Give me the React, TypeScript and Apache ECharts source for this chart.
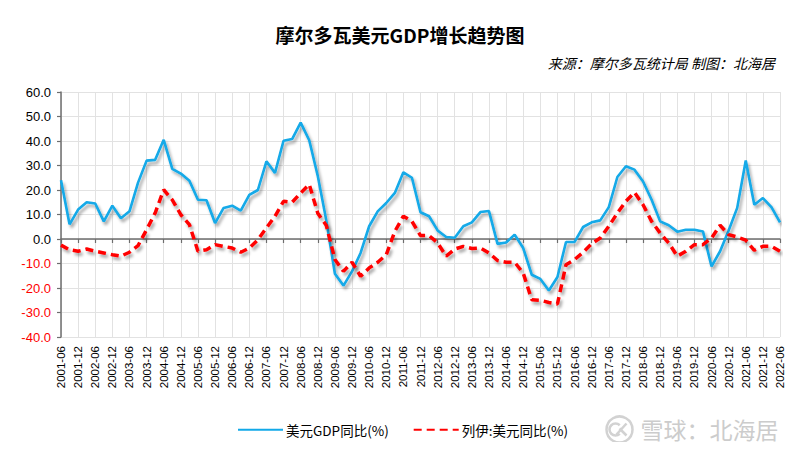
import React, { useEffect, useRef } from "react";
import * as echarts from "echarts";

const TITLE = "摩尔多瓦美元GDP增长趋势图";
const SUBTITLE = "来源：摩尔多瓦统计局 制图：北海居";
const SERIES_NAMES = ["美元GDP同比(%)", "列伊:美元同比(%)"];

// quarterly categories 2001-06 … 2022-06
const MONTHS = ["03", "06", "09", "12"];
const categories: string[] = [];
for (let y = 2001; y <= 2022; y++) {
  for (const m of MONTHS) {
    const key = `${y}-${m}`;
    if (key >= "2001-06" && key <= "2022-06") categories.push(key);
  }
}

const usdGdpYoY = [
  24, 6, 12, 15, 14.5, 7.2, 13.6, 8.5, 11.3, 23,
  32, 32.3, 40.5, 28.6, 26.7, 23.8, 16, 15.8, 6.5, 12.7,
  13.6, 11.6, 18, 20, 31.7, 27, 40.1, 40.8, 47.5, 40.3,
  25.7, 7.5, -14.2, -19, -13.2, -5.7, 5.2, 11.3, 14.7, 18.8,
  27.2, 25, 10.9, 9.3, 3.5, 0.8, 0.5, 5.2, 6.8, 11,
  11.4, -2, -1.4, 1.8, -3.7, -14.6, -16.3, -21, -15.5, -1.2,
  -1.2, 4.9, 6.8, 7.6, 13, 25.3, 29.7, 28.3, 23.5, 16,
  7.2, 5.6, 3, 3.8, 3.8, 3.1, -11.2, -5, 3.5, 12.7,
  32, 14, 16.7, 13, 6.8,
];

const leuUsdYoY = [
  -2.5, -4.4, -5, -4.1, -5, -5.7, -6.4, -7, -5.4, -2.7,
  3.8, 10.6, 20.1, 16, 9.9, 5.9, -5, -4.4, -2.3, -3,
  -3.7, -5.4, -3.7, -0.3, 4.5, 9.3, 15.4, 15, 18.8, 22.3,
  10.5, 5.5, -8.4, -13.2, -9.5, -15.2, -11.8, -9.5, -6.4, 3.1,
  9.3, 7.2, 1.4, 1.4, -1.6, -7, -4.1, -3, -3.9, -3.7,
  -5.7, -8.8, -9.5, -9.5, -13.9, -24.8, -25, -25.9, -26.5, -10.5,
  -8.4, -5.4, -1.9, 0.4, 5.2, 10.6, 15.4, 19, 14, 7.2,
  2.4, -1.6, -7, -5, -2.3, -2.3, 0.4, 5.6, 1.8, 0.8,
  -0.5, -4.6, -3, -3, -5,
];

const Y_MIN = -40;
const Y_MAX = 60;
const Y_STEP = 10;

const FONT = "'Liberation Sans', Arial, 'Noto Sans CJK SC', sans-serif";
const CJK = "'Noto Sans CJK SC', 'Liberation Sans', sans-serif";

const shadow = {
  shadowColor: "rgba(0,0,0,0.35)",
  shadowBlur: 3,
  shadowOffsetX: 2,
  shadowOffsetY: 3,
};

export default function App() {
  const ref = useRef<HTMLDivElement>(null);
  useEffect(() => {
    if (!ref.current) return;
    const chart = echarts.init(ref.current, undefined, { renderer: "svg" });
    chart.setOption({
      animation: false,
      backgroundColor: "#ffffff",
      title: [
        {
          text: TITLE,
          left: "center",
          top: 20,
          textStyle: { fontFamily: CJK, fontSize: 19, fontWeight: "bold", color: "#000" },
        },
        {
          text: SUBTITLE,
          right: 20,
          top: 51,
          textStyle: {
            fontFamily: CJK,
            fontSize: 14,
            fontWeight: "normal",
            fontStyle: "italic",
            color: "#000",
          },
        },
      ],
      legend: {
        top: 418,
        left: 232,
        itemWidth: 45,
        itemHeight: 14,
        itemGap: 24,
        itemStyle: { color: "rgba(0,0,0,0)", borderColor: "rgba(0,0,0,0)", borderWidth: 0, opacity: 0 },
        textStyle: { fontFamily: CJK, fontSize: 13.5, color: "#000", padding: [0, 0, 0, -2] },
        data: SERIES_NAMES,
      },
      grid: { left: 61, right: 20, top: 92, bottom: 113, containLabel: false },
      xAxis: [
        {
          type: "category",
          data: categories,
          boundaryGap: false,
          axisLine: { show: false, onZero: false },
          axisTick: { show: false },
          axisLabel: {
            interval: 1,
            rotate: 90,
            margin: 9,
            fontFamily: FONT,
            fontSize: 11.5,
            color: "#000",
          },
          splitLine: { show: true, interval: 1, lineStyle: { color: "#e2e2e2", width: 1 } },
        },
        {
          type: "category",
          data: categories,
          boundaryGap: false,
          position: "bottom",
          axisLine: { show: true, onZero: true, lineStyle: { color: "#6e6e6e", width: 1.5 } },
          axisTick: { show: true, interval: 1, length: 4, lineStyle: { color: "#6e6e6e", width: 1.2 } },
          axisLabel: { show: false },
          splitLine: { show: false },
        },
      ],
      yAxis: {
        type: "value",
        min: Y_MIN,
        max: Y_MAX,
        interval: Y_STEP,
        axisLine: { show: true, lineStyle: { color: "#6e6e6e", width: 1.5 } },
        axisTick: { show: true, length: 4, lineStyle: { color: "#6e6e6e", width: 1.2 } },
        axisLabel: {
          margin: 10,
          fontFamily: FONT,
          fontSize: 13,
          formatter: (v: number) => Number(v).toFixed(1),
          color: (v: any) => (Number(v) < 0 ? "#ff0000" : "#000000"),
        },
        splitLine: { show: true, lineStyle: { color: "#e2e2e2", width: 1 } },
      },
      series: [
        {
          name: SERIES_NAMES[0],
          type: "line",
          xAxisIndex: 0,
          data: usdGdpYoY,
          symbol: "none",
          z: 3,
          lineStyle: { color: "#12a9e8", width: 2.6, ...shadow },
          itemStyle: { color: "#12a9e8" },
        },
        {
          name: SERIES_NAMES[1],
          type: "line",
          xAxisIndex: 0,
          data: leuUsdYoY,
          symbol: "none",
          z: 4,
          lineStyle: { color: "#ff0000", width: 3.5, type: [8, 5], ...shadow },
          itemStyle: { color: "#ff0000" },
        },
      ],
      graphic: [
        {
          type: "group",
          left: 604,
          top: 414,
          silent: true,
          children: [
            {
              type: "circle",
              shape: { cx: 15, cy: 13, r: 13 },
              style: { fill: "none", stroke: "#d2d2d2", lineWidth: 2.5 },
            },
            {
              type: "arc",
              shape: { cx: 11, cy: 13, r: 6, startAngle: Math.PI * 0.25, endAngle: Math.PI * 1.75 },
              style: { fill: "none", stroke: "#d2d2d2", lineWidth: 2.5 },
            },
            {
              type: "line",
              shape: { x1: 12, y1: 18, x2: 22, y2: 7 },
              style: { stroke: "#d2d2d2", lineWidth: 2.5 },
            },
            {
              type: "line",
              shape: { x1: 15, y1: 12, x2: 22, y2: 19 },
              style: { stroke: "#d2d2d2", lineWidth: 2.5 },
            },
            {
              type: "text",
              x: 36,
              y: 1,
              style: {
                text: "雪球：北海居",
                fontFamily: CJK,
                fontSize: 23,
                fill: "#cccccc",
              },
            },
          ],
        },
      ],
    });
    return () => chart.dispose();
  }, []);
  return <div ref={ref} style={{ width: 800, height: 450, margin: -8 }} />;
}
